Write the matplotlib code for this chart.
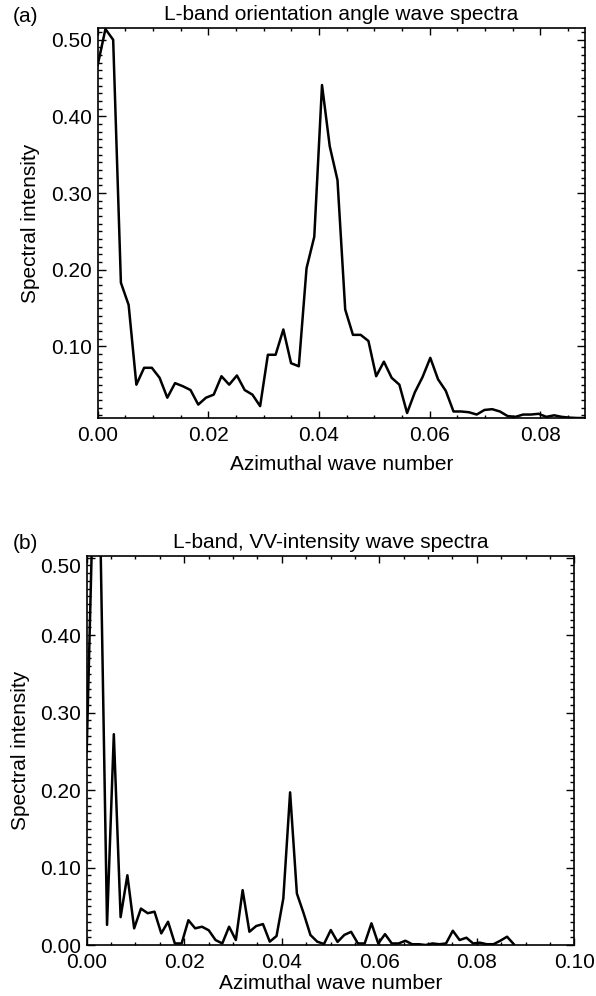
import numpy as np
import matplotlib
matplotlib.use("Agg")
import matplotlib.pyplot as plt
from matplotlib.ticker import MultipleLocator, FormatStrFormatter

plt.rcParams['font.family'] = ['Liberation Sans', 'DejaVu Sans']

# ---- data ----
n_points = 64
a_xmax = 0.0881
b_xmax = 0.0876
a_vals = [0.467, 0.514, 0.500, 0.183, 0.154, 0.050, 0.072, 0.072, 0.059, 0.033,
          0.052, 0.048, 0.043, 0.024, 0.033, 0.037, 0.061, 0.050, 0.062, 0.043,
          0.037, 0.022, 0.089, 0.089, 0.122, 0.078, 0.074, 0.202, 0.243, 0.441,
          0.361, 0.317, 0.148, 0.115, 0.115, 0.107, 0.061, 0.080, 0.059, 0.050,
          0.013, 0.040, 0.060, 0.085, 0.057, 0.042, 0.015, 0.015, 0.014, 0.011,
          0.017, 0.018, 0.015, 0.009, 0.008, 0.011, 0.011, 0.012, 0.008, 0.010,
          0.008, 0.007, 0.0065, 0.0065]
b_vals = [0.25, 0.60, 0.54, 0.026, 0.272, 0.036, 0.090, 0.0215, 0.047, 0.041,
          0.043, 0.015, 0.030, 0.002, 0.002, 0.032, 0.0215, 0.0236, 0.019, 0.0064,
          0.002, 0.0236, 0.0064, 0.0708, 0.0171, 0.0245, 0.027, 0.0043, 0.0116, 0.060,
          0.197, 0.0665, 0.0408, 0.0129, 0.0043, 0.0013, 0.0193, 0.004, 0.013, 0.017,
          0.002, 0.002, 0.028, 0.002, 0.014, 0.002, 0.002, 0.0055, 0.001, 0.001,
          0.000, 0.002, 0.001, 0.002, 0.0184, 0.0064, 0.0094, 0.002, 0.003, 0.001,
          0.001, 0.0055, 0.0107, 0.001]
a_x = np.linspace(0, a_xmax, n_points)
b_x = np.linspace(0, b_xmax, n_points)

titles = ["L-band orientation angle wave spectra", "L-band, VV-intensity wave spectra"]
panel_labels = ["(a)", "(b)"]
xlabel = "Azimuthal wave number"
ylabel = "Spectral intensity"

FS = 15
W, H = 596, 996
fig = plt.figure(figsize=(W / 100, H / 100), dpi=100)

def frac(l, t, r, b):
    return [l / W, 1 - b / H, (r - l) / W, (b - t) / H]

ax1 = fig.add_axes(frac(97.7, 28.3, 585, 418))
ax2 = fig.add_axes(frac(86.7, 556, 574.3, 945))

def style(ax, xpad, labelpad):
    for s in ax.spines.values():
        s.set_linewidth(1.2)
    ax.xaxis.set_major_locator(MultipleLocator(0.02))
    ax.xaxis.set_minor_locator(MultipleLocator(0.005))
    ax.yaxis.set_major_locator(MultipleLocator(0.1))
    ax.yaxis.set_minor_locator(MultipleLocator(0.01))
    ax.xaxis.set_major_formatter(FormatStrFormatter('%.2f'))
    ax.yaxis.set_major_formatter(FormatStrFormatter('%.2f'))
    ax.tick_params(which='both', direction='in', top=True, right=True, width=1.0,
                   labelsize=FS)
    ax.tick_params(axis='x', which='major', length=5, pad=xpad)
    ax.tick_params(axis='x', which='minor', length=2.5)
    ax.tick_params(axis='y', which='major', length=6, pad=4)
    ax.tick_params(axis='y', which='minor', length=3)
    ax.set_xlabel(xlabel, fontsize=FS, labelpad=labelpad)
    ax.set_ylabel(ylabel, fontsize=FS)

ax1.plot(a_x, a_vals, color='black', lw=1.8)
ax1.set_xlim(0, a_xmax)
ax1.set_ylim(0.0065, 0.515)
style(ax1, 6, 7)
ax1.yaxis.set_label_coords(-0.118, 0.5)
ax1.set_title(titles[0], fontsize=FS, pad=6)

ax2.plot(b_x, b_vals, color='black', lw=1.8)
ax2.set_xlim(0, 0.10)
ax2.set_ylim(0, 0.502)
style(ax2, 6, 1)
ax2.yaxis.set_label_coords(-0.116, 0.5)
ax2.set_title(titles[1], fontsize=FS, pad=6)
fig.canvas.draw()
for lab in ax2.get_yticklabels():
    if lab.get_text() == '0.50':
        lab.set_va('top')

fig.text(13 / W, 1 - 22 / H, panel_labels[0], fontsize=FS, va='baseline', ha='left')
fig.text(13 / W, 1 - 549 / H, panel_labels[1], fontsize=FS, va='baseline', ha='left')

fig.savefig("out.png", dpi=100)
